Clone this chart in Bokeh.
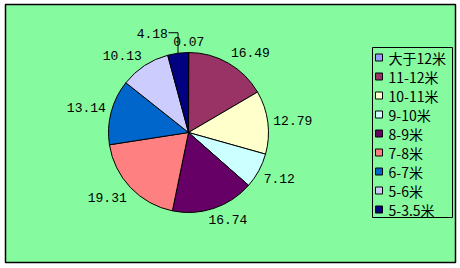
import math
from bokeh.plotting import figure
from bokeh.models import Range1d
from bokeh.core.properties import value
from bokeh.embed import file_html
from bokeh.resources import INLINE

# Share of each length class (%), in drawing order clockwise from 12 o'clock
categories = ["大于12米", "11-12米", "10-11米", "9-10米", "8-9米", "7-8米", "6-7米", "5-6米", "5-3.5米"]
shares = [0.07, 16.49, 12.79, 7.12, 16.74, 19.31, 13.14, 10.13, 4.18]
colors = ["#9999FF", "#993366", "#FFFFCC", "#CCFFFF", "#660066", "#FF8080", "#0066CC", "#CCCCFF", "#000080"]

W, H = 460, 268
GREEN = "#86FA9F"


def Y(y):
    # screen-style y (down) -> plot y (up)
    return H - y


p = figure(width=W, height=H, x_range=Range1d(0, W), y_range=Range1d(0, H),
           toolbar_location=None, output_backend="svg", min_border=0,
           background_fill_color="white", border_fill_color="white")
p.axis.visible = False
p.grid.visible = False
p.outline_line_color = None

# chart area
p.quad(left=5, right=455, top=Y(4), bottom=Y(262), fill_color=GREEN,
       line_color="black", line_width=1.5)

# pie
cx, cy, r = 188, 132, 80
total = sum(shares)
starts, ends, mids = [], [], []
acc = 0.0
for s in shares:
    a0 = acc / total * 2 * math.pi
    acc += s
    a1 = acc / total * 2 * math.pi
    starts.append(math.pi / 2 - a0)
    ends.append(math.pi / 2 - a1)
    mids.append((a0 + a1) / 2)  # clockwise from top

p.wedge(x=cx, y=Y(cy), radius=r, start_angle=starts, end_angle=ends,
        direction="clock", fill_color=colors, line_color="black", line_width=1)

# data labels, placed just outside the rim along each slice's mid angle
labels = [f"{s:.2f}" for s in shares]
gap = 6
nudge = {8: (-21, -8)}
lx, ly, leaders_x, leaders_y = [], [], [], []
for i, (t, th) in enumerate(zip(labels, mids)):
    w, h = len(t) * 7.6, 11
    sx, sy = math.sin(th), math.cos(th)
    px = cx + (r + gap) * sx
    py = cy - (r + gap) * sy
    ox = w / 2 * max(-1, min(1, 2 * sx))
    oy = -h / 2 * max(-1, min(1, 2 * sy))
    x, y = px + ox, py + oy
    if i in nudge:
        dx, dy = nudge[i]
        x, y = x + dx, y + dy
        ex = cx + r * sx
        ey = cy - r * sy
        leaders_x.append([x + w / 2 + 1, ex, ex])
        leaders_y.append([Y(y - 1), Y(y - 1), Y(ey)])
    lx.append(x)
    ly.append(Y(y))

p.text(x=lx, y=ly, text=labels, text_align="center", text_baseline="middle",
       text_font=value("Liberation Mono"), text_font_size="13px", text_color="black")
if leaders_x:
    p.multi_line(xs=leaders_x, ys=leaders_y, line_color="black", line_width=1)

# legend
p.quad(left=372, right=452, top=Y(47), bottom=Y(217), fill_color=GREEN,
       line_color="black", line_width=1)
ys = [57 + 19 * i for i in range(len(categories))]
p.quad(left=375, right=382, top=[Y(y - 3.5) for y in ys], bottom=[Y(y + 3.5) for y in ys],
       fill_color=colors, line_color="black", line_width=1)
p.text(x=388, y=[Y(y) for y in ys], text=categories, text_align="left", text_baseline="middle",
       text_font=value("Noto Sans CJK SC"), text_font_size="14px", text_color="black")

open("out.html", "w").write(file_html(p, INLINE))
